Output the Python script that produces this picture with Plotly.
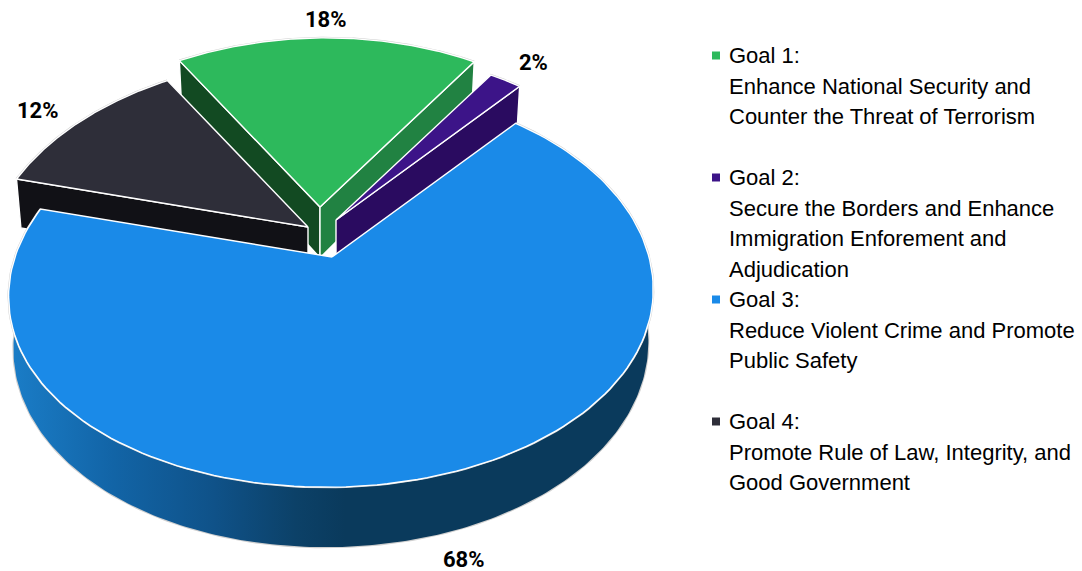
import numpy as np
import plotly.graph_objects as go

# Budget share per strategic goal, in percent
goals = ["Goal 1:", "Goal 2:", "Goal 3:", "Goal 4:"]
shares = [18, 2, 68, 12]
descriptions = [
    ["Enhance National Security and", "Counter the Threat of Terrorism", ""],
    ["Secure the Borders and Enhance", "Immigration Enforement and", "Adjudication"],
    ["Reduce Violent Crime and Promote", "Public Safety", ""],
    ["Promote Rule of Law, Integrity, and", "Good Government"],
]

top_colors = ["#2DB95C", "#3C1488", "#1A8AE8", "#2E2E39"]
left_wall_colors = ["#124A22", None, None, None]
right_wall_colors = ["#218242", "#2A0B60", None, None]
front_wall_color = "#111116"
rim_gradient = [
    [0.0, "#1A7CC6"], [0.3, "#1264A6"], [0.6, "#0F5289"],
    [0.85, "#0C4168"], [1.0, "#0A3A5C"],
]

# Perspective model of the tilted disc
CX, CY = 332.0, 257.0
SX, SY = 317.0, 195.0
K = 0.153
KX = 0.18
SHEAR = 6.0
DEPTH = 50.8
SHRINK = 0.985
explode_x = [-12, 4, 0, -24]
explode_y = [-50, -37, 0, -30]
START_ANGLE = -32.0
LABEL_FONT = "Roboto, Liberation Sans"
KEY_FONT = "Liberation Sans, Arial"


def project(theta_deg, radius, level, dx, dy):
    t = np.radians(np.asarray(theta_deg, dtype=float))
    x = radius * np.sin(t)
    y = radius * np.cos(t)
    scale = 1 - (1 - SHRINK) * level
    return (
        CX + dx + SX * x / (1 + KX * y) * scale + SHEAR * y,
        CY + dy - SY * y / (1 + K * y) + level * DEPTH / (1 + K * y),
    )


def add_poly(fig, xs, ys, color, line="#FFFFFF", width=1.4, **extra):
    fig.add_trace(go.Scatter(
        x=list(xs) + [xs[0]], y=list(ys) + [ys[0]], mode="lines", fill="toself",
        fillcolor=color, line=dict(color=line, width=width),
        hoverinfo="skip", showlegend=False, **extra,
    ))


def add_rim(fig, xs, ys):
    fig.add_trace(go.Scatter(
        x=xs, y=ys, mode="lines", line=dict(color="#CFCFCF", width=2.2),
        hoverinfo="skip", showlegend=False,
    ))


def radial_wall(fig, theta, dx, dy, color):
    x0, y0 = project(theta, 0, 0, dx, dy)
    x1, y1 = project(theta, 1, 0, dx, dy)
    x2, y2 = project(theta, 1, 1, dx, dy)
    x3, y3 = project(theta, 0, 1, dx, dy)
    add_poly(fig, [x0, x1, x2, x3], [y0, y1, y2, y3], color)


def top_face(fig, a0, a1, dx, dy, color):
    arc = np.linspace(a0, a1, 160)
    ax, ay = project(arc, 1, 0, dx, dy)
    add_rim(fig, ax, ay)
    hx, hy = project(a0, 0, 0, dx, dy)
    add_poly(fig, [hx] + list(ax), [hy] + list(ay), color)


fig = go.Figure()

edges = START_ANGLE + np.cumsum([0] + [s * 3.6 for s in shares])
G1, G2, G3, G4 = 0, 1, 2, 3

# Goal 1: both radial walls, then its top
radial_wall(fig, edges[G1], explode_x[G1], explode_y[G1], left_wall_colors[G1])
radial_wall(fig, edges[G1 + 1], explode_x[G1], explode_y[G1], right_wall_colors[G1])
top_face(fig, edges[G1], edges[G1 + 1], explode_x[G1], explode_y[G1], top_colors[G1])

# Goal 4 sits in front of the Goal 1 left wall
radial_wall(fig, edges[G4], explode_x[G4], explode_y[G4], front_wall_color)
top_face(fig, edges[G4], edges[G4 + 1], explode_x[G4], explode_y[G4], top_colors[G4])

# Goal 2
radial_wall(fig, edges[G2 + 1], explode_x[G2], explode_y[G2], right_wall_colors[G2])
top_face(fig, edges[G2], edges[G2 + 1], explode_x[G2], explode_y[G2], top_colors[G2])

# Goal 3: curved rim with a horizontal shade, then its top
arc = np.linspace(edges[G3], edges[G3 + 1], 300)
tx, ty = project(arc, 1, 0, 0, 0)
bx, by = project(arc, 1, 1, 0, 0)
add_rim(fig, bx, by)
fig.add_trace(go.Scatter(
    x=np.r_[tx, bx[::-1], tx[0]], y=np.r_[ty, by[::-1], ty[0]],
    mode="lines", fill="toself", line=dict(width=0),
    fillgradient=dict(type="horizontal", colorscale=rim_gradient, start=15, stop=345),
    hoverinfo="skip", showlegend=False,
))
top_face(fig, edges[G3], edges[G3 + 1], 0, 0, top_colors[G3])

# Percentage labels, one per goal
label_x = [326, 533, 464, 38]
label_y = [19, 62, 559, 110]
annotations = [
    dict(x=lx, y=ly, text=f"<b>{s}%</b>", showarrow=False, xref="x", yref="y",
         xanchor="center", yanchor="middle",
         font=dict(family=LABEL_FONT, size=22, color="#000000"))
    for lx, ly, s in zip(label_x, label_y, shares)
]

# Key: one column of evenly spaced text lines with a square bullet per goal
LINE_TOP, LINE_STEP = 55.5, 30.5
row = 0
bullet_y = []
for goal, lines in zip(goals, descriptions):
    bullet_y.append(LINE_TOP + row * LINE_STEP)
    for text in [goal] + lines:
        if text:
            annotations.append(dict(
                x=727, y=LINE_TOP + row * LINE_STEP, text=text, showarrow=False,
                xref="x", yref="y", xanchor="left", yanchor="middle",
                font=dict(family=KEY_FONT, size=22, color="#000000"),
            ))
        row += 1

fig.add_trace(go.Scatter(
    x=[716] * len(goals), y=bullet_y, mode="markers",
    marker=dict(symbol="square", size=8, color=top_colors, line=dict(width=0)),
    hoverinfo="skip", showlegend=False,
))

fig.update_layout(
    width=1082, height=571, margin=dict(l=0, r=0, t=0, b=0),
    paper_bgcolor="#FFFFFF", plot_bgcolor="#FFFFFF", showlegend=False,
    xaxis=dict(range=[0, 1082], visible=False, fixedrange=True),
    yaxis=dict(range=[571, 0], visible=False, fixedrange=True),
    annotations=annotations,
)

fig.write_html("out.html", config={"displayModeBar": False})
